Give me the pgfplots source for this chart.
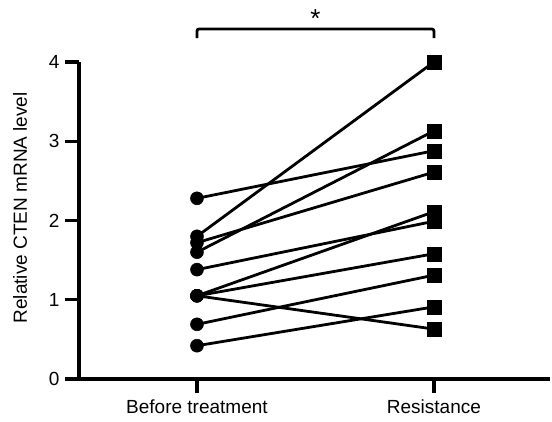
\documentclass[border=0pt]{standalone}
\usepackage{pgfplots}
\pgfplotsset{compat=1.18}
\usepackage{fontspec}
\setmainfont{Liberation Sans}

\begin{document}
\begin{tikzpicture}[font=\fontsize{19}{23}\selectfont]
\useasboundingbox (-79pt,-43pt) rectangle (473pt,379pt);
\begin{axis}[
    at={(0,0)}, anchor=south west,
    scale only axis,
    width=471pt, height=317pt,
    xmin=-0.498, xmax=1.49,
    ymin=0, ymax=4,
    axis x line=bottom, axis y line=left,
    axis line style={line width=3.2pt, -},
    every tick/.style={black, line width=3.2pt},
    tick align=outside,
    major tick length=14pt,
    xtick={0,1},
    xticklabels={Before treatment, Resistance},
    ytick={0,1,2,3,4},
    /pgf/number format/assume math mode=true,
    yticklabel style={xshift=-2pt},
    xticklabel style={yshift=-3pt},
    ylabel={Relative CTEN mRNA level},
    every axis y label/.style={at={(axis description cs:-0.125,0.54)}, rotate=90, anchor=center},
    clip=false,
    every axis plot/.append style={black, line width=2.8pt},
]
% paired samples: before treatment -> resistance
\addplot[no marks] coordinates {(0,2.28) (1,2.88)};
\addplot[no marks] coordinates {(0,1.80) (1,4.00)};
\addplot[no marks] coordinates {(0,1.72) (1,2.61)};
\addplot[no marks] coordinates {(0,1.60) (1,3.13)};
\addplot[no marks] coordinates {(0,1.38) (1,1.99)};
\addplot[no marks] coordinates {(0,1.05) (1,2.11)};
\addplot[no marks] coordinates {(0,1.05) (1,1.58)};
\addplot[no marks] coordinates {(0,1.05) (1,0.63)};
\addplot[no marks] coordinates {(0,0.69) (1,1.31)};
\addplot[no marks] coordinates {(0,0.42) (1,0.91)};
\addplot[only marks, mark=*, mark size=6.5pt, mark options={line width=0.5pt}] coordinates {
  (0,2.28) (0,1.80) (0,1.72) (0,1.60) (0,1.38)
  (0,1.05) (0,1.05) (0,1.05) (0,0.69) (0,0.42)};
\addplot[only marks, mark=square*, mark size=7pt, mark options={line width=0.5pt}] coordinates {
  (1,2.88) (1,4.00) (1,2.61) (1,3.13) (1,1.99)
  (1,2.11) (1,1.58) (1,0.63) (1,1.31) (1,0.91)};
% significance bracket
\draw[line width=2.8pt, rounded corners=2pt] (axis cs:0,4.30) -- (axis cs:0,4.416) -- (axis cs:1,4.416) -- (axis cs:1,4.30);
\node[anchor=north, inner sep=0pt, font=\fontsize{26}{28}\selectfont] at (axis cs:0.5,4.66) {*};
\end{axis}
\end{tikzpicture}
\end{document}
